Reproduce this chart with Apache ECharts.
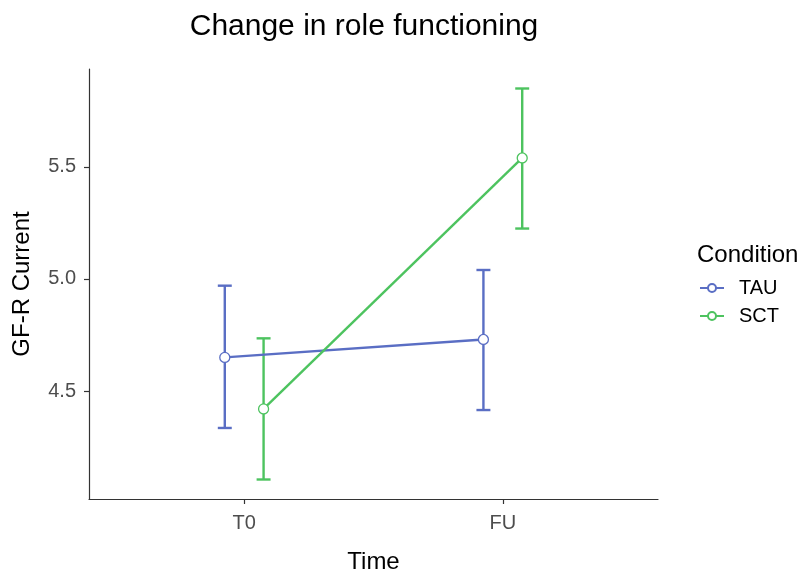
<!DOCTYPE html>
<html>
<head>
<meta charset="utf-8">
<script src="https://cdn.jsdelivr.net/npm/echarts@6/dist/echarts.min.js"></script>
<style>
  html, body { margin: 0; padding: 0; background: #fff; overflow: hidden; }
  #chart { width: 800px; height: 576px; }
</style>
</head>
<body>
<div id="chart"></div>
<script>
// Time points and conditions
const timePoints = ['T0', 'FU'];
const conditions = ['TAU', 'SCT'];

// Group means with lower / upper error bar limits, per time point
const tauMean = [4.65, 4.73];
const tauLow  = [4.335, 4.415];
const tauHigh = [4.97, 5.04];

const sctMean = [4.42, 5.54];
const sctLow  = [4.105, 5.225];
const sctHigh = [4.735, 5.85];

// Y axis tick values
const yTicks = [4.5, 5.0, 5.5];

const colors = { TAU: '#5A6EC4', SCT: '#4DC35F' };
const dodge = { TAU: -0.075, SCT: 0.075 };   // horizontal dodge in category units
const capHalf = 0.027;                        // error bar cap half-width

const groupData = {
  TAU: { mean: tauMean, low: tauLow, high: tauHigh },
  SCT: { mean: sctMean, low: sctLow, high: sctHigh }
};

const xPos = i => i + 1;
const labelFont = 'Liberation Sans, Arial, sans-serif';

function errorSeries(name) {
  const g = groupData[name];
  const data = timePoints.map((t, i) => [xPos(i) + dodge[name], g.low[i], g.high[i]]);
  return {
    type: 'custom',
    name: name + ' error',
    z: 1,
    silent: true,
    itemStyle: { color: colors[name] },
    data: data,
    encode: { x: 0, y: [1, 2] },
    renderItem: function (params, api) {
      const x = api.value(0);
      const lo = api.coord([x, api.value(1)]);
      const hi = api.coord([x, api.value(2)]);
      const capL = api.coord([x - capHalf, 0])[0];
      const capR = api.coord([x + capHalf, 0])[0];
      const style = { stroke: colors[name], lineWidth: 2.4 };
      return {
        type: 'group',
        children: [
          { type: 'line', shape: { x1: lo[0], y1: lo[1], x2: hi[0], y2: hi[1] }, style: style },
          { type: 'line', shape: { x1: capL, y1: hi[1], x2: capR, y2: hi[1] }, style: style },
          { type: 'line', shape: { x1: capL, y1: lo[1], x2: capR, y2: lo[1] }, style: style }
        ]
      };
    }
  };
}

function meanSeries(name) {
  const g = groupData[name];
  return {
    type: 'line',
    name: name,
    z: 3,
    data: timePoints.map((t, i) => [xPos(i) + dodge[name], g.mean[i]]),
    symbol: 'circle',
    symbolSize: 10,
    showAllSymbol: true,
    color: colors[name],
    lineStyle: { color: colors[name], width: 2.4 },
    itemStyle: { color: '#ffffff', borderColor: colors[name], borderWidth: 1.3 },
    emphasis: { disabled: true },
    animation: false
  };
}

const chart = echarts.init(document.getElementById('chart'), null, { renderer: 'canvas' });

chart.setOption({
  animation: false,
  backgroundColor: '#ffffff',
  title: [
    {
      text: 'Change in role functioning',
      left: 359, top: 7, textAlign: 'center',
      textStyle: { fontFamily: labelFont, fontSize: 30, fontWeight: 'normal', color: '#000' }
    },
    {
      text: 'Condition',
      left: 692, top: 238,
      textStyle: { fontFamily: labelFont, fontSize: 24, fontWeight: 'normal', color: '#000' }
    }
  ],
  legend: {
    data: conditions,
    orient: 'vertical',
    left: 699, top: 278,
    itemWidth: 24, itemHeight: 10, itemGap: 8,
    padding: 0,
    textStyle: { fontFamily: labelFont, fontSize: 20, color: '#000', padding: [0, 0, 0, 10] },
    selectedMode: false
  },
  grid: {
    left: 89, top: 69, width: 569, height: 430,
    containLabel: false,
    outerBoundsMode: 'none'
  },
  xAxis: {
    type: 'value',
    min: 0.4, max: 2.6,
    name: 'Time',
    nameLocation: 'middle',
    nameGap: 51,
    nameTextStyle: { fontFamily: labelFont, fontSize: 24, color: '#000' },
    axisLine: { show: true, lineStyle: { color: '#333', width: 1.2 } },
    axisTick: { show: true, length: 5, lineStyle: { color: '#333', width: 1.2 }, customValues: [1, 2] },
    axisLabel: {
      fontFamily: labelFont, fontSize: 20, color: '#4D4D4D', margin: 14,
      customValues: [1, 2],
      formatter: v => timePoints[Math.round(v) - 1] || ''
    },
    splitLine: { show: false }
  },
  yAxis: {
    type: 'value',
    min: 4.018, max: 5.937,
    name: 'GF-R Current',
    nameLocation: 'middle',
    nameGap: 55,
    nameRotate: 90,
    nameTextStyle: { fontFamily: labelFont, fontSize: 24, color: '#000' },
    axisLine: { show: true, lineStyle: { color: '#333', width: 1.2 } },
    axisTick: { show: true, length: 5, lineStyle: { color: '#333', width: 1.2 }, customValues: yTicks },
    axisLabel: {
      fontFamily: labelFont, fontSize: 20, color: '#4D4D4D', margin: 13,
      customValues: yTicks,
      formatter: v => v.toFixed(1)
    },
    splitLine: { show: false }
  },
  series: [
    meanSeries('TAU'),
    meanSeries('SCT'),
    errorSeries('TAU'),
    errorSeries('SCT')
  ]
});
</script>
</body>
</html>
